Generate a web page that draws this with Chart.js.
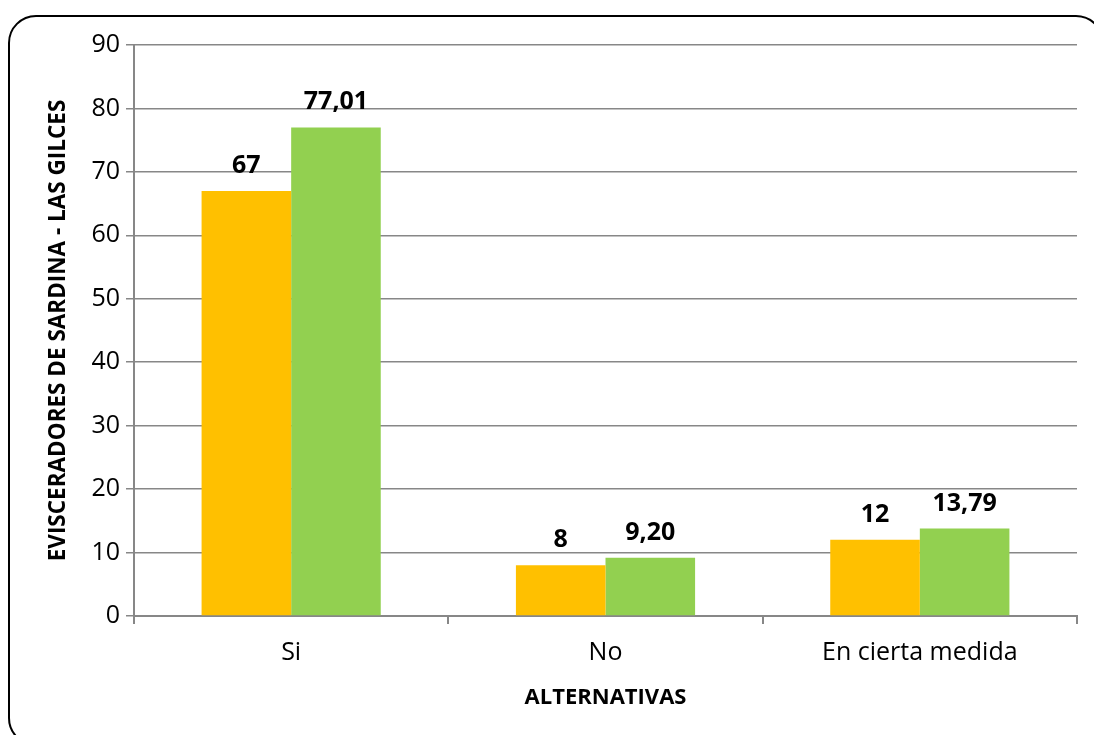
<!DOCTYPE html>
<html>
<head>
<meta charset="utf-8">
<script src="https://cdn.jsdelivr.net/npm/chart.js@4/dist/chart.umd.min.js"></script>
<style>
  html, body { margin: 0; padding: 0; background: #fff; overflow: hidden; }
  #wrap { position: relative; width: 1094px; height: 735px; overflow: hidden; }
  #frame {
    position: absolute; left: 8px; top: 15px; width: 1096px; height: 731px;
    border: 2px solid #000; border-radius: 28px; box-sizing: border-box;
  }
  canvas { position: absolute; left: 0; top: 0; }
</style>
</head>
<body>
<div id="wrap">
  <div id="frame"></div>
  <canvas id="chart" width="1094" height="735"></canvas>
</div>
<script>
const categories = ["Si", "No", "En cierta medida"];
const counts = [67, 8, 12];
const percents = [77.01, 9.20, 13.79];
const countLabels = ["67", "8", "12"];
const percentLabels = ["77,01", "9,20", "13,79"];

const FONT = "'Open Sans', 'Liberation Sans', sans-serif";

// draw value labels above each bar
const valueLabels = {
  id: "valueLabels",
  afterDatasetsDraw(chart) {
    const ctx = chart.ctx;
    ctx.save();
    ctx.font = "bold 25px " + FONT;
    ctx.fillStyle = "#000";
    ctx.textAlign = "center";
    ctx.textBaseline = "alphabetic";
    chart.data.datasets.forEach((ds, i) => {
      chart.getDatasetMeta(i).data.forEach((bar, j) => {
        ctx.fillText(ds.labelsText[j], bar.x, bar.y - 18);
      });
    });
    ctx.restore();
  }
};

new Chart(document.getElementById("chart"), {
  type: "bar",
  data: {
    labels: categories,
    datasets: [
      { label: "Frecuencia", data: counts, labelsText: countLabels, backgroundColor: "#FFC000", borderWidth: 0 },
      { label: "Porcentaje", data: percents, labelsText: percentLabels, backgroundColor: "#92D050", borderWidth: 0 }
    ]
  },
  options: {
    responsive: false,
    animation: false,
    layout: { padding: { left: 30, right: 17, top: 45, bottom: 0 } },
    plugins: { legend: { display: false }, tooltip: { enabled: false } },
    datasets: { bar: { barPercentage: 1, categoryPercentage: 0.57 } },
    scales: {
      x: {
        grid: { drawOnChartArea: false, drawTicks: true, tickLength: 8, color: "#878787", lineWidth: 2 },
        border: { color: "#878787", width: 2 },
        ticks: { color: "#000", font: { family: FONT, size: 25 }, padding: 14 },
        title: { display: true, text: "ALTERNATIVAS", color: "#000", font: { family: FONT, size: 22, weight: "bold" }, padding: { top: 0, bottom: 24 } },
        afterFit(scale) { scale.height = 119; }
      },
      y: {
        min: 0, max: 90,
        ticks: { stepSize: 10, color: "#000", font: { family: FONT, size: 25 }, padding: 6 },
        grid: { color: "#878787", lineWidth: 1.5, tickLength: 8 },
        border: { color: "#878787", width: 2 },
        title: { display: true, text: "EVISCERADORES DE SARDINA - LAS GILCES", color: "#000", font: { family: FONT, size: 22.5, weight: "bold" }, padding: { top: 15, bottom: 0 } },
        afterFit(scale) { scale.width = 104; }
      }
    }
  },
  plugins: [valueLabels]
});
</script>
</body>
</html>
